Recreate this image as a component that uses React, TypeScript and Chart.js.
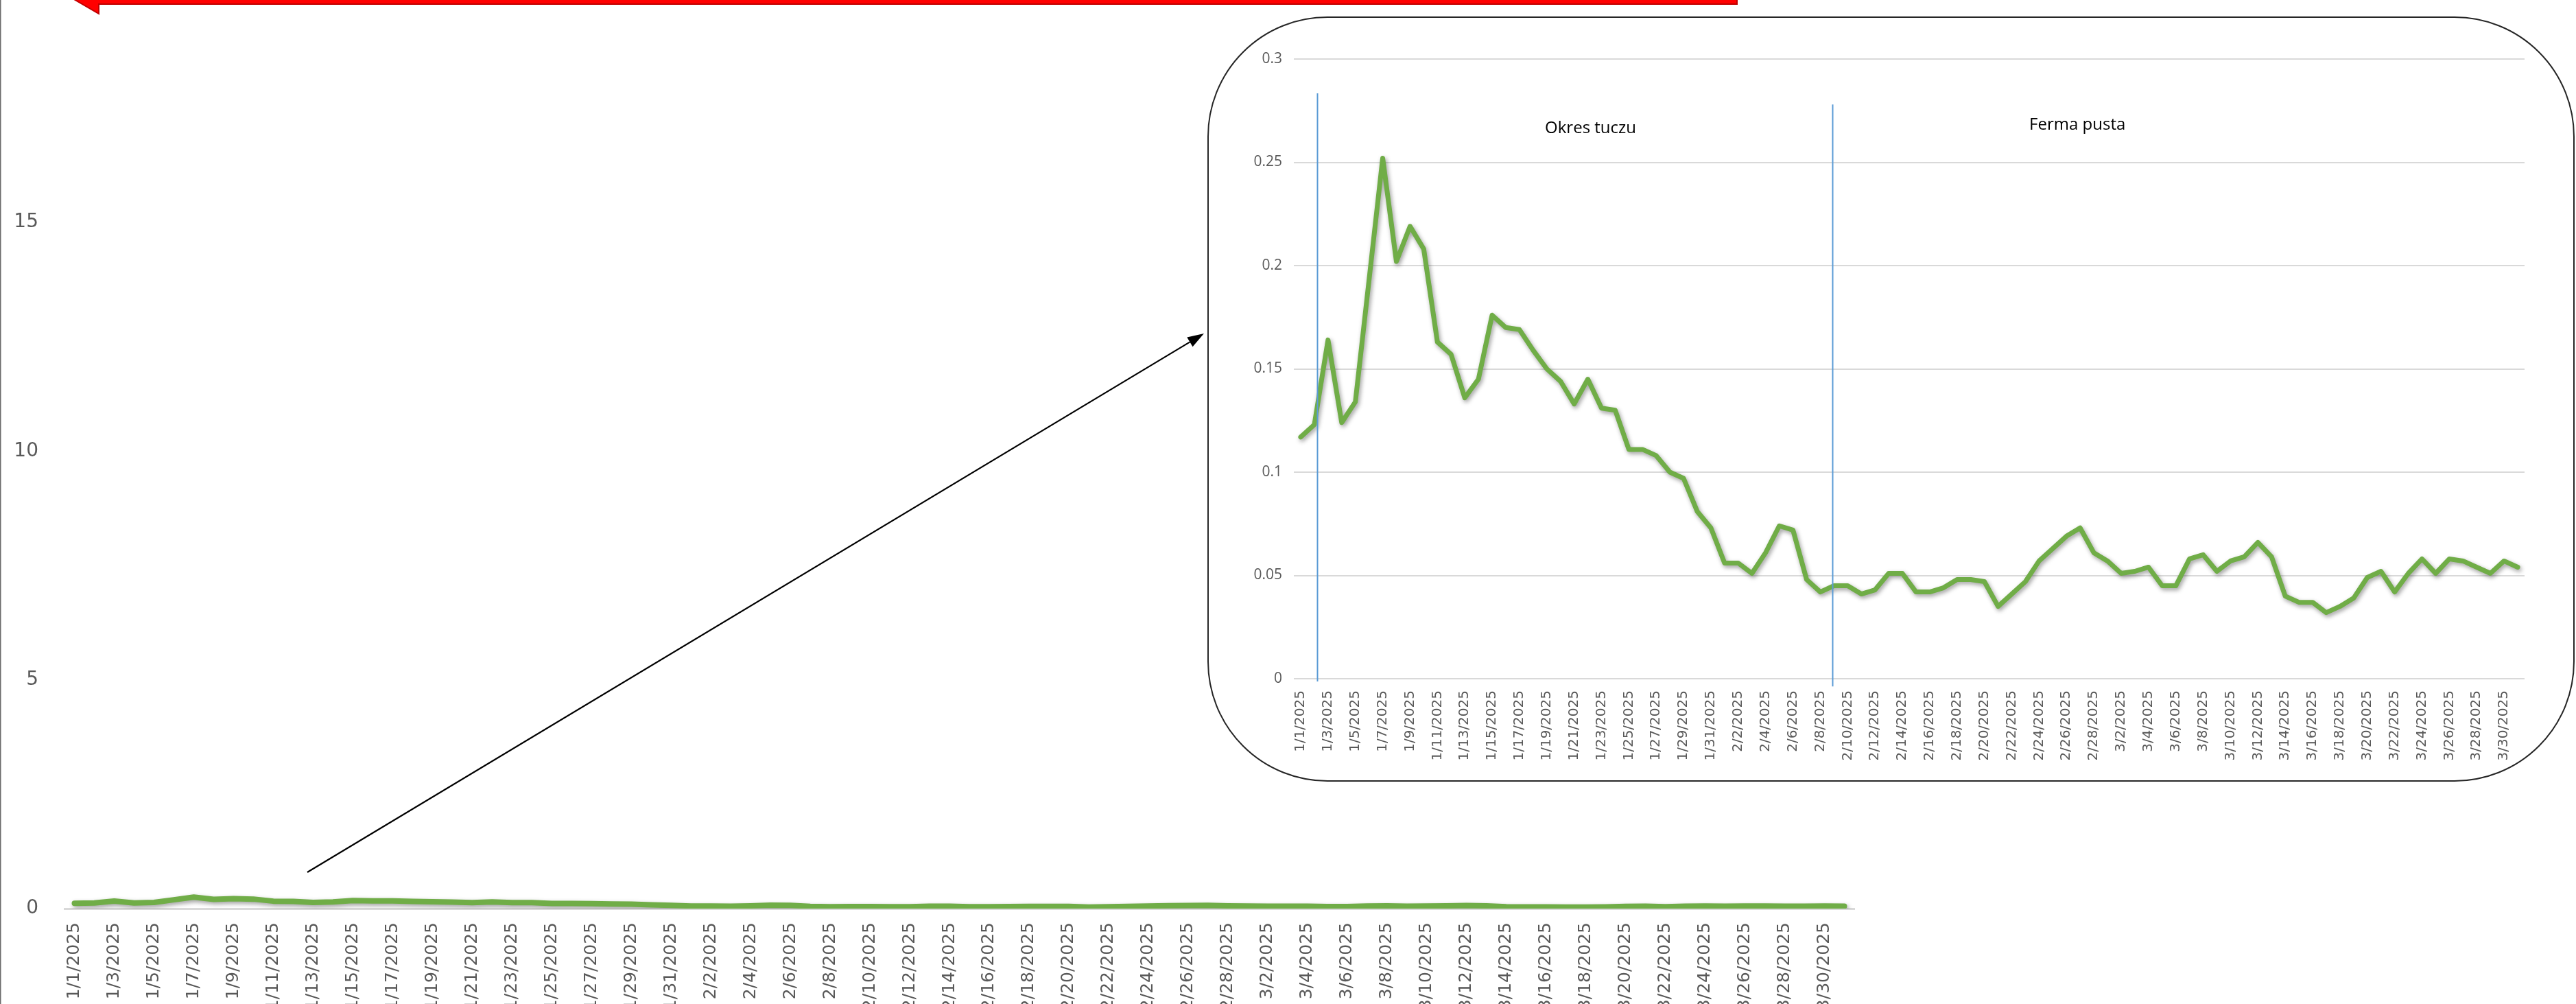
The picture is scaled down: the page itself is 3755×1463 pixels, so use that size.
import { useEffect, useRef } from 'react';
import { Chart, registerables } from 'chart.js';

Chart.register(...registerables);

const DATES: string[] = [
  '1/1/2025', '1/2/2025', '1/3/2025', '1/4/2025', '1/5/2025', '1/6/2025', '1/7/2025', '1/8/2025', '1/9/2025', '1/10/2025',
  '1/11/2025', '1/12/2025', '1/13/2025', '1/14/2025', '1/15/2025', '1/16/2025', '1/17/2025', '1/18/2025', '1/19/2025', '1/20/2025',
  '1/21/2025', '1/22/2025', '1/23/2025', '1/24/2025', '1/25/2025', '1/26/2025', '1/27/2025', '1/28/2025', '1/29/2025', '1/30/2025',
  '1/31/2025', '2/1/2025', '2/2/2025', '2/3/2025', '2/4/2025', '2/5/2025', '2/6/2025', '2/7/2025', '2/8/2025', '2/9/2025',
  '2/10/2025', '2/11/2025', '2/12/2025', '2/13/2025', '2/14/2025', '2/15/2025', '2/16/2025', '2/17/2025', '2/18/2025', '2/19/2025',
  '2/20/2025', '2/21/2025', '2/22/2025', '2/23/2025', '2/24/2025', '2/25/2025', '2/26/2025', '2/27/2025', '2/28/2025', '3/1/2025',
  '3/2/2025', '3/3/2025', '3/4/2025', '3/5/2025', '3/6/2025', '3/7/2025', '3/8/2025', '3/9/2025', '3/10/2025', '3/11/2025',
  '3/12/2025', '3/13/2025', '3/14/2025', '3/15/2025', '3/16/2025', '3/17/2025', '3/18/2025', '3/19/2025', '3/20/2025', '3/21/2025',
  '3/22/2025', '3/23/2025', '3/24/2025', '3/25/2025', '3/26/2025', '3/27/2025', '3/28/2025', '3/29/2025', '3/30/2025', '3/31/2025',
];

const JANUARY_VALUES: number[] = [
  0.117, 0.123, 0.164, 0.124, 0.134, 0.193, 0.252, 0.202, 0.219, 0.208,
  0.163, 0.157, 0.136, 0.145, 0.176, 0.170, 0.169, 0.159, 0.150, 0.144,
  0.133, 0.145, 0.131, 0.130, 0.111, 0.111, 0.108, 0.100, 0.097, 0.081,
  0.073,
];
const FEBRUARY_VALUES: number[] = [
  0.056, 0.056, 0.051, 0.061, 0.074, 0.072, 0.048, 0.042, 0.045, 0.045,
  0.041, 0.043, 0.051, 0.051, 0.042, 0.042, 0.044, 0.048, 0.048, 0.047,
  0.035, 0.041, 0.047, 0.057, 0.063, 0.069, 0.073, 0.061,
];
const MARCH_VALUES: number[] = [
  0.057, 0.051, 0.052, 0.054, 0.045, 0.045, 0.058, 0.060, 0.052, 0.057,
  0.059, 0.066, 0.059, 0.040, 0.037, 0.037, 0.032, 0.035, 0.039, 0.049,
  0.052, 0.042, 0.051, 0.058, 0.051, 0.058, 0.057, 0.054, 0.051, 0.057,
  0.054,
];
const VALUES: number[] = [...JANUARY_VALUES, ...FEBRUARY_VALUES, ...MARCH_VALUES];

const MAIN_Y_TICKS: number[] = [0, 5, 10, 15, 20];
const INSET_Y_TICKS: number[] = [0, 0.05, 0.1, 0.15, 0.2, 0.25, 0.3];

const PHASE_LABELS: string[] = ['Okres tuczu', 'Ferma pusta'];

const GREEN = '#70AD47';
const TICK_GREY = '#595959';

const everyOther = (_v: any, i: number) => (i % 2 === 0 ? DATES[i] : '');

const shadowPlugin = {
  id: 'lineShadow',
  beforeDatasetsDraw(chart: any) {
    const ctx = chart.ctx;
    ctx.save();
    ctx.shadowColor = 'rgba(0,0,0,0.38)';
    ctx.shadowBlur = 6;
    ctx.shadowOffsetX = 2;
    ctx.shadowOffsetY = 3;
  },
  afterDatasetsDraw(chart: any) {
    chart.ctx.restore();
  },
};

// main canvas is shifted above the page top so that the plot's top edge sits just above the picture
const MAIN_SHIFT = 64;

const mainDecorPlugin = {
  id: 'mainDecor',
  afterDraw(chart: any) {
    const ctx = chart.ctx;
    const s = MAIN_SHIFT;
    ctx.save();
    // left frame edge
    ctx.fillStyle = '#6b6b6b';
    ctx.fillRect(0, 0, 1.5, chart.height);
    // red block arrow (mostly off the top of the picture)
    ctx.beginPath();
    ctx.moveTo(89, -12 + s);
    ctx.lineTo(144, -44 + s);
    ctx.lineTo(144, -30 + s);
    ctx.lineTo(2532, -30 + s);
    ctx.lineTo(2532, 6 + s);
    ctx.lineTo(144, 6 + s);
    ctx.lineTo(144, 20 + s);
    ctx.closePath();
    ctx.fillStyle = '#FF0000';
    ctx.fill();
    ctx.strokeStyle = '#C00000';
    ctx.lineWidth = 2;
    ctx.stroke();
    // black pointer arrow towards the inset
    const x1 = 448, y1 = 1271 + s, x2 = 1755, y2 = 486 + s;
    const ang = Math.atan2(y2 - y1, x2 - x1);
    const hl = 24, hw = 8;
    const bx = x2 - hl * Math.cos(ang), by = y2 - hl * Math.sin(ang);
    ctx.strokeStyle = '#000';
    ctx.lineWidth = 2.2;
    ctx.beginPath();
    ctx.moveTo(x1, y1);
    ctx.lineTo(bx, by);
    ctx.stroke();
    ctx.beginPath();
    ctx.moveTo(x2, y2);
    ctx.lineTo(bx + hw * Math.sin(ang), by - hw * Math.cos(ang));
    ctx.lineTo(bx - hw * Math.sin(ang), by + hw * Math.cos(ang));
    ctx.closePath();
    ctx.fillStyle = '#000';
    ctx.fill();
    ctx.restore();
  },
};

const insetDecorPlugin = {
  id: 'insetDecor',
  afterDatasetsDraw(chart: any) {
    const ctx = chart.ctx;
    const xs = chart.scales.x;
    const ys = chart.scales.y;
    const marks = [
      { x: 1.2, top: 0.2834, bottom: -0.0013 },
      { x: 38.9, top: 0.278, bottom: -0.0037 },
    ];
    ctx.save();
    ctx.strokeStyle = '#5B9BD5';
    ctx.lineWidth = 2;
    marks.forEach((m) => {
      const px = Math.round(xs.getPixelForValue(m.x)) + 0.5;
      ctx.beginPath();
      ctx.moveTo(px, ys.getPixelForValue(m.top));
      ctx.lineTo(px, ys.getPixelForValue(m.bottom));
      ctx.stroke();
    });
    const texts = [
      { x: 21.2, y: 0.2664, t: PHASE_LABELS[0] },
      { x: 56.8, y: 0.268, t: PHASE_LABELS[1] },
    ];
    ctx.fillStyle = '#000';
    ctx.font = '24px "Open Sans"';
    ctx.textAlign = 'center';
    ctx.textBaseline = 'middle';
    texts.forEach((t) => {
      ctx.fillText(t.t, xs.getPixelForValue(t.x), ys.getPixelForValue(t.y));
    });
    ctx.restore();
  },
};

export default function App() {
  const mainRef = useRef<HTMLCanvasElement>(null);
  const insetRef = useRef<HTMLCanvasElement>(null);

  useEffect(() => {
    const main = new Chart(mainRef.current as HTMLCanvasElement, {
      type: 'line',
      data: {
        labels: DATES,
        datasets: [
          {
            data: VALUES,
            borderColor: GREEN,
            borderWidth: 8,
            pointRadius: 0,
            tension: 0,
            borderJoinStyle: 'round',
            borderCapStyle: 'round',
          },
        ],
      },
      options: {
        responsive: false,
        animation: false,
        layout: { padding: { left: 0, top: 0, right: 1052, bottom: 0 } },
        plugins: { legend: { display: false }, tooltip: { enabled: false } },
        scales: {
          x: {
            offset: true,
            grid: { display: false, drawTicks: false },
            border: { display: true, color: '#D9D9D9', width: 3 },
            ticks: {
              autoSkip: false,
              minRotation: 90,
              maxRotation: 90,
              padding: 20,
              color: TICK_GREY,
              font: { family: 'DejaVu Sans', size: 25 },
              callback: everyOther,
            },
            afterFit: (s: any) => {
              s.height = 139;
            },
          },
          y: {
            min: MAIN_Y_TICKS[0],
            max: MAIN_Y_TICKS[MAIN_Y_TICKS.length - 1],
            grid: { display: false, drawTicks: false },
            border: { display: false },
            ticks: {
              stepSize: MAIN_Y_TICKS[1] - MAIN_Y_TICKS[0],
              padding: 38,
              color: TICK_GREY,
              font: { family: 'DejaVu Sans', size: 28 },
            },
            afterFit: (s: any) => {
              s.width = 94;
            },
          },
        },
      },
      plugins: [shadowPlugin, mainDecorPlugin],
    } as any);

    const inset = new Chart(insetRef.current as HTMLCanvasElement, {
      type: 'line',
      data: {
        labels: DATES,
        datasets: [
          {
            data: VALUES,
            borderColor: GREEN,
            borderWidth: 7,
            pointRadius: 0,
            tension: 0,
            borderJoinStyle: 'round',
            borderCapStyle: 'round',
          },
        ],
      },
      options: {
        responsive: false,
        animation: false,
        layout: { padding: { left: 0, top: 56, right: 40, bottom: 0 } },
        plugins: { legend: { display: false }, tooltip: { enabled: false } },
        scales: {
          x: {
            offset: true,
            grid: { display: false, drawTicks: false },
            border: { display: false },
            ticks: {
              autoSkip: false,
              minRotation: 90,
              maxRotation: 90,
              padding: 17,
              color: TICK_GREY,
              font: { family: 'DejaVu Sans', size: 20 },
              callback: everyOther,
            },
            afterFit: (s: any) => {
              s.height = 141;
            },
          },
          y: {
            min: INSET_Y_TICKS[0],
            max: INSET_Y_TICKS[INSET_Y_TICKS.length - 1],
            grid: { color: '#D9D9D9', lineWidth: 2, drawTicks: false },
            border: { display: false },
            ticks: {
              stepSize: INSET_Y_TICKS[1] - INSET_Y_TICKS[0],
              padding: 17,
              color: TICK_GREY,
              font: { family: 'Open Sans', size: 21 },
              callback: (v: any) => String(Math.round(Number(v) * 100) / 100),
            },
            afterFit: (s: any) => {
              s.width = 116;
            },
          },
        },
      },
      plugins: [shadowPlugin, insetDecorPlugin],
    } as any);

    return () => {
      main.destroy();
      inset.destroy();
    };
  }, []);

  return (
    <div
      style={{
        position: 'fixed',
        left: 0,
        top: 0,
        width: 3755,
        height: 1463,
        overflow: 'hidden',
        background: '#fff',
      }}
    >
      <canvas
        ref={mainRef}
        width={3755}
        height={1463 + MAIN_SHIFT}
        style={{ position: 'absolute', left: 0, top: -MAIN_SHIFT, width: 3755, height: 1463 + MAIN_SHIFT }}
      />
      <div
        style={{
          position: 'absolute',
          left: 1760,
          top: 24,
          width: 1993,
          height: 1115,
          boxSizing: 'border-box',
          border: '2px solid #262626',
          borderRadius: 175,
          background: '#fff',
        }}
      />
      <canvas
        ref={insetRef}
        width={1950}
        height={1100}
        style={{ position: 'absolute', left: 1770, top: 30, width: 1950, height: 1100 }}
      />
    </div>
  );
}
